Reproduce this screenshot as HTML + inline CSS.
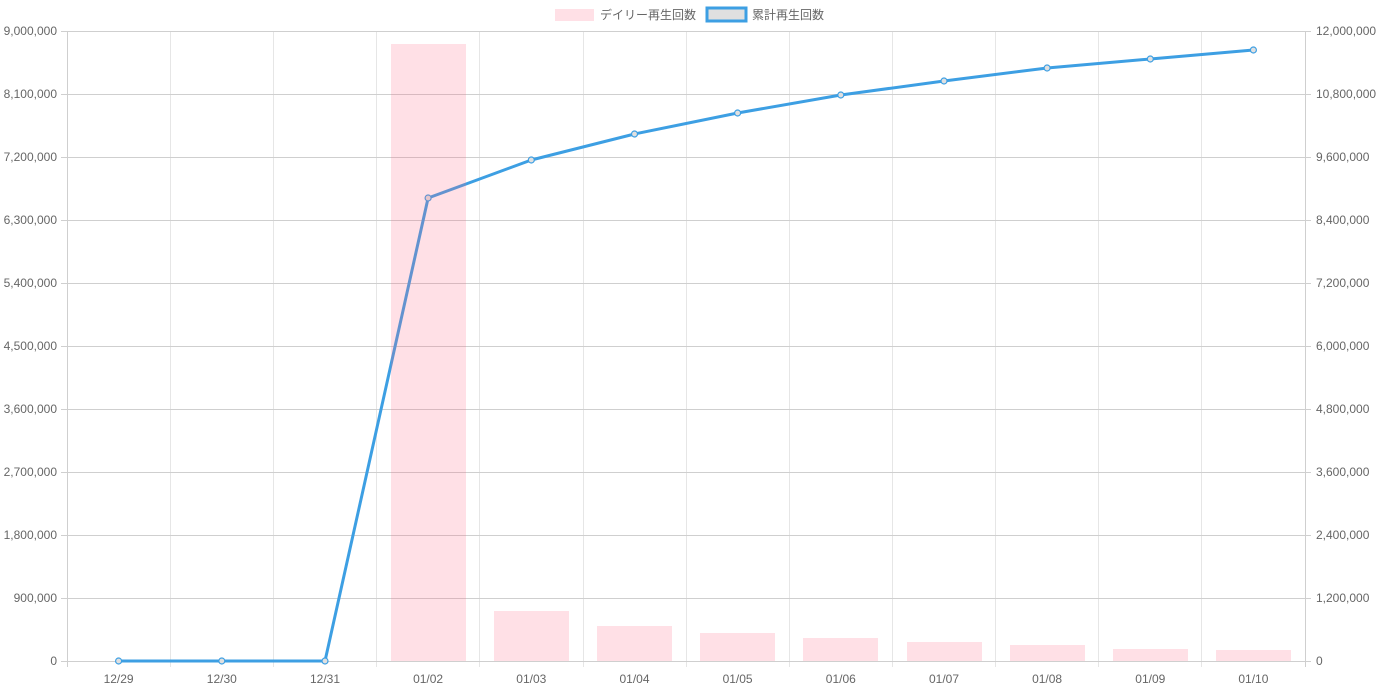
<!DOCTYPE html>
<html><head><meta charset="utf-8"><style>
body{margin:0;background:#fff;}
svg text{font-family:"Liberation Sans","Noto Sans CJK JP",sans-serif;font-size:12px;fill:#666;}
</style></head><body>
<svg width="1380" height="690" xmlns="http://www.w3.org/2000/svg">
<!-- legend -->
<rect x="555" y="9" width="39" height="12" fill="rgba(255,99,132,0.2)"/>
<text x="600" y="19">デイリー再生回数</text>
<rect x="707" y="8" width="39" height="13" fill="#e0e0e0" stroke="#3d9fe3" stroke-width="3"/>
<text x="752" y="19">累計再生回数</text>
<g stroke="#e6e6e6" stroke-width="1">
<line x1="170.5" y1="31" x2="170.5" y2="667"/><line x1="273.5" y1="31" x2="273.5" y2="667"/>
<line x1="376.5" y1="31" x2="376.5" y2="667"/><line x1="479.5" y1="31" x2="479.5" y2="667"/>
<line x1="583.5" y1="31" x2="583.5" y2="667"/><line x1="686.5" y1="31" x2="686.5" y2="667"/>
<line x1="789.5" y1="31" x2="789.5" y2="667"/><line x1="892.5" y1="31" x2="892.5" y2="667"/>
<line x1="995.5" y1="31" x2="995.5" y2="667"/><line x1="1098.5" y1="31" x2="1098.5" y2="667"/>
<line x1="1201.5" y1="31" x2="1201.5" y2="667"/>
</g>
<g stroke="#cfcfcf" stroke-width="1">
<line x1="61" y1="31.5" x2="1311" y2="31.5"/><line x1="61" y1="94.5" x2="1311" y2="94.5"/>
<line x1="61" y1="157.5" x2="1311" y2="157.5"/><line x1="61" y1="220.5" x2="1311" y2="220.5"/>
<line x1="61" y1="283.5" x2="1311" y2="283.5"/><line x1="61" y1="346.5" x2="1311" y2="346.5"/>
<line x1="61" y1="409.5" x2="1311" y2="409.5"/><line x1="61" y1="472.5" x2="1311" y2="472.5"/>
<line x1="61" y1="535.5" x2="1311" y2="535.5"/><line x1="61" y1="598.5" x2="1311" y2="598.5"/>
<line x1="61" y1="661.5" x2="1311" y2="661.5"/>
<line x1="67.5" y1="31" x2="67.5" y2="667"/><line x1="1305.5" y1="31" x2="1305.5" y2="667"/>
</g>
<polyline fill="none" stroke="#3d9fe3" stroke-width="3" stroke-linejoin="round" points="118.6,661 221.8,661 325,661 428.1,198 531.3,160 634.5,134 737.6,113 840.8,95 944,81 1047.1,68 1150.3,59 1253.4,50"/>
<g fill="#e0e0e0" stroke="#3d9fe3" stroke-width="1.2">
<circle cx="118.6" cy="661" r="3"/><circle cx="221.8" cy="661" r="3"/><circle cx="325" cy="661" r="3"/>
<circle cx="428.1" cy="198" r="3"/><circle cx="531.3" cy="160" r="3"/><circle cx="634.5" cy="134" r="3"/>
<circle cx="737.6" cy="113" r="3"/><circle cx="840.8" cy="95" r="3"/><circle cx="944" cy="81" r="3"/>
<circle cx="1047.1" cy="68" r="3"/><circle cx="1150.3" cy="59" r="3"/><circle cx="1253.4" cy="50" r="3"/>
</g>
<g fill="rgba(255,99,132,0.2)">
<rect x="391" y="44" width="75" height="617"/>
<rect x="494" y="611" width="75" height="50"/>
<rect x="597" y="626" width="75" height="35"/>
<rect x="700" y="633" width="75" height="28"/>
<rect x="803" y="638" width="75" height="23"/>
<rect x="907" y="642" width="75" height="19"/>
<rect x="1010" y="645" width="75" height="16"/>
<rect x="1113" y="649" width="75" height="12"/>
<rect x="1216" y="650" width="75" height="11"/>
</g>
<g text-anchor="end">
<text x="57" y="35">9,000,000</text><text x="57" y="98">8,100,000</text><text x="57" y="161">7,200,000</text>
<text x="57" y="224">6,300,000</text><text x="57" y="287">5,400,000</text><text x="57" y="350">4,500,000</text>
<text x="57" y="413">3,600,000</text><text x="57" y="476">2,700,000</text><text x="57" y="539">1,800,000</text>
<text x="57" y="602">900,000</text><text x="57" y="665">0</text>
</g>
<g>
<text x="1316" y="35">12,000,000</text><text x="1316" y="98">10,800,000</text><text x="1316" y="161">9,600,000</text>
<text x="1316" y="224">8,400,000</text><text x="1316" y="287">7,200,000</text><text x="1316" y="350">6,000,000</text>
<text x="1316" y="413">4,800,000</text><text x="1316" y="476">3,600,000</text><text x="1316" y="539">2,400,000</text>
<text x="1316" y="602">1,200,000</text><text x="1316" y="665">0</text>
</g>
<g text-anchor="middle">
<text x="118.6" y="683">12/29</text><text x="221.8" y="683">12/30</text><text x="325" y="683">12/31</text>
<text x="428.1" y="683">01/02</text><text x="531.3" y="683">01/03</text><text x="634.5" y="683">01/04</text>
<text x="737.6" y="683">01/05</text><text x="840.8" y="683">01/06</text><text x="944" y="683">01/07</text>
<text x="1047.1" y="683">01/08</text><text x="1150.3" y="683">01/09</text><text x="1253.4" y="683">01/10</text>
</g>
</svg>
</body></html>
